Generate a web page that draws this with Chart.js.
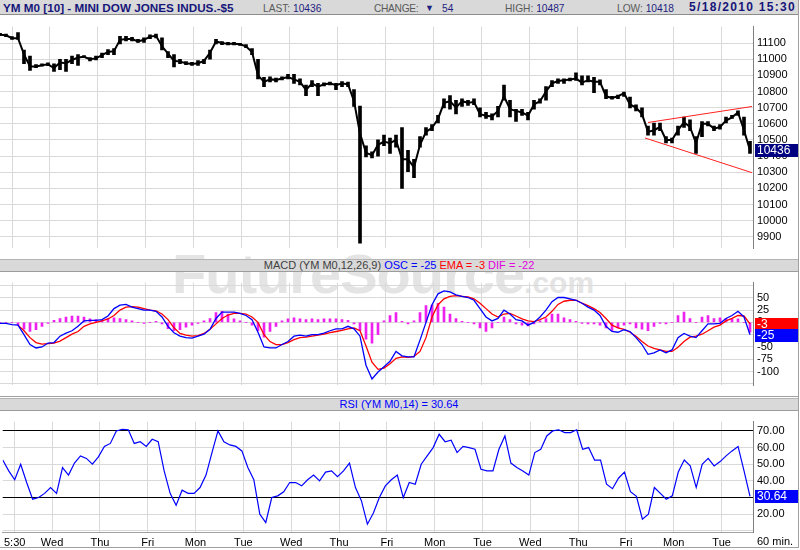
<!DOCTYPE html>
<html><head><meta charset="utf-8">
<script src="https://cdn.jsdelivr.net/npm/chart.js@4.4.1/dist/chart.umd.min.js"></script>
<style>
html,body{margin:0;padding:0;background:#fff}
#root{position:relative;width:800px;height:550px;overflow:hidden;font-family:"Liberation Sans",Arial,sans-serif}
.t{position:absolute;white-space:nowrap;font-size:11px;line-height:13px}
.h{font-size:10.2px;color:#5a5a5a}
.bar{position:absolute;left:0;width:798px;background:#d9d9d9;border-top:1px solid #b4b4b4;border-bottom:1px solid #9c9c9c}
canvas{position:absolute;left:0}
.wm{position:absolute;font-weight:bold;color:#e4e4e4;white-space:nowrap;line-height:60px}
.ln{position:absolute;background:#a0a0a0}
</style></head>
<body><div id="root">
<div class="wm" style="left:172px;top:244px;font-size:56px;letter-spacing:-1px">FutureSource<span style="font-size:30px;letter-spacing:0">.com</span></div>

<canvas id="cPrice" width="800" height="243" style="top:16px"></canvas>
<canvas id="cMacd" width="800" height="124" style="top:272px"></canvas>
<canvas id="cRsi" width="800" height="139" style="top:411px"></canvas>

<div class="bar" style="top:0;height:14px;border-top:none;border-bottom:1px solid #8c8c8c"></div>
<div class="t" style="left:3px;top:1px;font-size:11.7px;font-weight:bold;color:#16167a">YM M0 [10] - MINI DOW JONES INDUS.-$5</div>
<div class="t h" style="left:263px;top:2px">LAST: <span style="color:#1e1e80">10436</span></div>
<div class="t h" style="left:374px;top:2px;letter-spacing:-0.3px">CHANGE:</div>
<div class="t" style="left:425px;top:2px;color:#1e1e80;font-size:9px">▼</div>
<div class="t h" style="left:442px;top:2px;color:#1e1e80">54</div>
<div class="t h" style="left:505px;top:2px">HIGH: <span style="color:#1e1e80">10487</span></div>
<div class="t h" style="left:617px;top:2px">LOW: <span style="color:#1e1e80">10418</span></div>
<div class="t" style="right:4px;top:1px;font-size:12px;font-weight:bold;letter-spacing:1.3px;color:#16167a">5/18/2010 15:30</div>

<div class="bar" style="top:259px;height:11px"></div>
<div class="t" style="left:0;width:798px;top:259px;text-align:center"><span style="color:#404040">MACD (YM M0,12,26,9)</span> <span style="color:#0000ff">OSC = -25</span> <span style="color:#ff0000">EMA = -3</span> <span style="color:#e000e0">DIF = -22</span></div>

<div class="ln" style="left:0;top:396px;width:798px;height:1px"></div>
<div class="bar" style="top:398px;height:11px"></div>
<div class="t" style="left:0;width:798px;top:398px;text-align:center;color:#0000ff">RSI (YM M0,14) = 30.64</div>

<div class="t" style="left:757px;top:535px;color:#000">60 min.</div>
<div class="ln" style="left:798px;top:0;width:1px;height:548px"></div>
<div class="ln" style="left:0;top:547px;width:799px;height:1px"></div>
</div>
<script>
// ---------- data ----------
const SAMPLE_STEP = 3; // hourly bars between samples
const dayTicks  = [6, 24.75, 48.75, 72.75, 96.75, 120.75, 144.75, 168.75, 192.75, 216.75, 240.75, 264.75, 288.75, 312.75, 336.75, 360.75];
const dayLabels = ['5:30','Wed','Thu','Fri','Mon','Tue','Wed','Thu','Fri','Mon','Tue','Wed','Thu','Fri','Mon','Tue'];
const priceTicks = [9900,10000,10100,10200,10300,10400,10500,10600,10700,10800,10900,11000,11100];
const macdTicks  = [-125,-100,-75,-50,-25,0,25,50,75];
const rsiTicks   = [10,20,30,40,50,60,70];

const priceHigh = [11160,11155,11140,11165,11057,11020,10966,10972,10978,10972,
11000,11000,11020,11028,11023,11010,11020,11038,11060,11066,
11141,11141,11136,11123,11132,11151,11155,11132,11047,11028,
11000,10985,10981,10991,11000,11057,11123,11109,11104,11104,
11098,11090,11066,11000,10887,10891,10883,10891,10906,10906,
10878,10840,10868,10850,10853,10859,10850,10862,10859,10812,
10710,10464,10426,10500,10530,10511,10530,10577,10435,10379,
10520,10577,10595,10652,10755,10774,10746,10755,10746,10755,
10699,10671,10661,10708,10840,10746,10690,10690,10671,10746,
10755,10830,10868,10878,10878,10883,10915,10897,10897,10887,
10872,10812,10770,10778,10797,10765,10718,10699,10586,10605,
10605,10520,10511,10586,10642,10624,10520,10614,10614,10586,
10595,10642,10652,10680,10642,10492];
const priceLow = [11148,11140,11122,11122,10972,10930,10948,10957,10960,10925,
10935,10925,10972,10962,11010,10990,10996,11010,11028,11028,
11094,11113,11113,11104,11104,11128,11132,11057,11010,10953,
10972,10966,10962,10962,10972,11000,11094,11090,11089,11089,
11085,11072,11028,10878,10830,10859,10859,10872,10878,10850,
10840,10774,10830,10774,10834,10840,10812,10830,10830,10708,
9860,10394,10388,10400,10464,10417,10455,10200,10303,10266,
10455,10530,10558,10605,10699,10690,10661,10708,10714,10718,
10642,10633,10624,10642,10746,10642,10614,10652,10624,10690,
10727,10746,10830,10850,10850,10865,10868,10840,10859,10793,
10840,10755,10752,10755,10770,10699,10680,10642,10530,10530,
10558,10482,10482,10530,10577,10558,10417,10520,10586,10558,
10567,10605,10633,10652,10530,10417];
const priceClose = [11152,11148,11130,11130,11030,10955,10955,10962,10968,10945,
10980,10975,10995,11010,11015,11000,11005,11025,11045,11050,
11120,11125,11125,11110,11120,11140,11145,11080,11035,10990,
10985,10975,10970,10975,10990,11040,11110,11100,11095,11095,
11092,11080,11045,10900,10860,10875,10872,10880,10890,10875,
10860,10810,10850,10830,10845,10850,10840,10850,10845,10740,
10540,10420,10405,10470,10490,10480,10500,10380,10380,10330,
10470,10550,10575,10630,10730,10740,10700,10740,10730,10735,
10660,10650,10645,10680,10770,10690,10680,10670,10650,10720,
10740,10800,10850,10865,10870,10875,10880,10855,10870,10860,
10860,10770,10760,10770,10790,10720,10700,10660,10550,10560,
10580,10500,10500,10560,10610,10580,10480,10600,10600,10570,
10580,10620,10640,10670,10560,10436];
const trendUpperX = [324, 376];
const trendUpperY = [10608, 10707];
const trendLowerX = [322.5, 376];
const trendLowerY = [10512, 10297];

const macdOsc = [-2,-2,-4.5,-5.6,-25,-45,-52,-50,-42,-41,
-28,-22,-17,-8,3,4,4,5.6,13,28,
35,36.5,31,28,25,25,22.5,11,-8,-21,
-28,-31,-32,-28,-24,-14,8,21,21,21,
18.5,14,5.6,-20,-50,-52,-52,-45,-39,-28,
-26,-28,-25,-25,-22,-17,-13,-13,-8,-13,
-28,-87,-115,-101,-90,-79,-59,-68,-70,-70,
-36,0,36,58,64,62,56,53,50.6,45,
28,11,3,8,25,17,5.6,3,-5.6,0,
11,25,42,50.6,50.6,48,45,39,31,25,
14,-8,-18.5,-20,-15,-18.5,-31,-45,-65,-62,
-56,-62,-56,-31,-22.5,-28,-31,-17,-3,-3,
-2,8,14,22.5,11,-25];
const macdEma = [null,null,null,-5.6,-17,-31,-41,-44,-43,-42,
-38,-31,-24,-18.5,-8,-3,0,3,7,14,
25,31,32,31,28,25,23.6,17,5.6,-11,
-22.5,-26,-28,-27,-22.5,-14,-3,8,15,18.5,
18.5,17,11,0,-25,-39,-45,-45,-41,-35,
-31,-30,-28,-26,-24,-21,-18.5,-16,-13,-11,
-17,-48,-81,-95.5,-93,-84,-73,-70,-71,-69,
-59,-31,11,36,48,53,54.5,53,51.7,48,
39,28,17,11,17,18.5,13,7,3,1.7,
5.6,11,22.5,36.5,43,45,45,39,34,28,
20,8,-5.6,-11,-14,-20,-28,-39,-48,-53,
-56,-59,-59,-50.6,-39,-30,-28,-24,-17,-9.6,
-5.6,3,8,14,13,-3];
const macdDif = [0,0,0,-5,-14,-18.5,-15,-8,-2,4,
8,11,13,13,11,7,5.6,4,8,9.5,
8,5.6,3,0,-2,0,2,-3,-13,-17,
-15,-9.6,-5.6,-2,3,8,20,22.5,17,7,
3,0,-5.6,-17,-30,-18.5,-8,3,7,9.5,
7,5.6,7,5.6,7,7,7,5.6,4,-3,
-17,-34,-42,-25,3,14,20,2,-3,3,
20,34,35,39,31,17,8,2,0,-3,
-11,-18.5,-11,0,11,5.6,-3,-5.6,-7,-3,
3,8,17,17,9.5,5.6,2,-2,-3,-3,
-5.6,-11,-17,-11,-5.6,-3,-11,-14,-17,-8,
-2,-3,0,14,21,8,0,11,14,8,
9.5,8,7,7,0,-20];

const rsi = [52.5,46,40.7,50,39,29,30,32.5,36,32.5,
48,43.5,50.7,55,53.5,50,54.4,60.7,62.5,70,
71,70.7,62.5,63.5,60.7,65,63.5,46,32.5,25.3,
34.4,32.5,32.5,36,43.5,57,70,63.5,61.6,60.7,
58,48,40.7,20,15,30,31,33.5,39,39,
37,40.7,43.5,40,45.3,46,42.5,46,50.7,36,
28,14,20.7,30,37,40.7,43.5,30,39,38,
50,55,60,68,63.5,64.4,57,60.7,60,59,
47,46,46,59,67,50.7,48,46,43.5,57,
59,67,70,70.7,69,69,70.7,59,60,52.5,
52.5,38,35.3,41.6,45.3,33.5,30.7,17,20,36,
32.5,29,31,45.3,52.5,49,36,50,53.5,49,
51.6,55,58,60.7,46,30.64];

const lastPrice = 10436, lastOsc = -25, lastEma = -3, lastRsi = 30.64;

// ---------- helpers ----------
const xs = priceHigh.map((_, i) => i * SAMPLE_STEP);
const pts = arr => arr.map((v, i) => ({x: xs[i], y: v}));
const FONT = {family: '"Liberation Sans", Arial, sans-serif', size: 11};
const GRID = '#d9d9d9';

function xScale(showLabels) {
  return {
    type: 'linear', min: 0, max: 376.5, offset: false,
    grid: {color: GRID, drawTicks: false, offset: false},
    border: {display: showLabels, color: '#a0a0a0'},
    afterBuildTicks: s => { s.ticks = dayTicks.map(v => ({value: v})); },
    ticks: {display: showLabels, autoSkip: false, maxRotation: 0, minRotation: 0, padding: 4,
      color: '#000', font: FONT, callback: (v, i) => dayLabels[i]},
    afterFit: s => { s.height = showLabels ? 18 : 0; }
  };
}
function yScale(min, max, ticks, fmt, gridColor) {
  return {
    position: 'right', min, max,
    afterBuildTicks: s => { s.ticks = ticks.map(v => ({value: v})); },
    afterFit: s => { s.width = 47; },
    grid: {color: gridColor || GRID, drawTicks: false},
    border: {display: true, color: '#808080'},
    ticks: {padding: 4, color: '#000', font: FONT, autoSkip: false, callback: v => fmt(v)}
  };
}
const valueBox = {
  id: 'valueBox',
  afterDraw(chart, args, opts) {
    const ctx = chart.ctx, ys = chart.scales.y, a = chart.chartArea;
    (opts.items || []).forEach(b => {
      const py = Math.round(ys.getPixelForValue(b.value));
      ctx.save();
      ctx.fillStyle = b.bg;
      ctx.fillRect(a.right + 2, py - 6, chart.width - a.right - 4, 13);
      ctx.fillStyle = '#fff';
      ctx.font = '12px "Liberation Sans", Arial, sans-serif';
      ctx.textBaseline = 'middle'; ctx.textAlign = 'left';
      ctx.fillText(b.label, a.right + 4, py + 1);
      ctx.restore();
    });
  }
};
const common = {
  animation: false, responsive: false, maintainAspectRatio: false, devicePixelRatio: 1,
  layout: {padding: 0}, events: []
};

// ---------- price ----------
new Chart(document.getElementById('cPrice'), {
  type: 'bar',
  plugins: [valueBox],
  data: {datasets: [
    {type: 'line', data: pts(priceClose), borderColor: '#000', borderWidth: 2, pointRadius: 0, tension: 0, order: 0},
    {type: 'bar', data: priceHigh.map((h, i) => ({x: xs[i], y: [priceLow[i], h]})), backgroundColor: '#000', barThickness: 3, order: 1},
    {type: 'line', data: trendUpperX.map((x, i) => ({x, y: trendUpperY[i]})), borderColor: '#ff2020', borderWidth: 1, pointRadius: 0, order: 0},
    {type: 'line', data: trendLowerX.map((x, i) => ({x, y: trendLowerY[i]})), borderColor: '#ff2020', borderWidth: 1, pointRadius: 0, order: 0}
  ]},
  options: {...common,
    plugins: {legend: {display: false}, tooltip: {enabled: false},
      valueBox: {items: [{value: lastPrice, label: String(lastPrice), bg: '#000080'}]}},
    scales: {x: xScale(false), y: yScale(9828, 11202, priceTicks, v => String(v))}
  }
});

// ---------- MACD ----------
new Chart(document.getElementById('cMacd'), {
  type: 'bar',
  plugins: [valueBox],
  data: {datasets: [
    {type: 'line', data: pts(macdOsc), borderColor: '#0000ff', borderWidth: 1.3, pointRadius: 0, tension: 0, order: 0},
    {type: 'line', data: pts(macdEma), borderColor: '#ff0000', borderWidth: 1.3, pointRadius: 0, tension: 0, order: 1},
    {type: 'bar', data: pts(macdDif), backgroundColor: '#ee22ee', barThickness: 2, order: 2}
  ]},
  options: {...common,
    plugins: {legend: {display: false}, tooltip: {enabled: false},
      valueBox: {items: [{value: lastEma, label: String(lastEma), bg: '#ff0000'}, {value: lastOsc, label: String(lastOsc), bg: '#0000ff'}]}},
    scales: {x: xScale(false), y: yScale(-128.1, 80.9, macdTicks, v => (v >= -100 && v <= 50) ? String(v) : '')}
  }
});

// ---------- RSI ----------
new Chart(document.getElementById('cRsi'), {
  type: 'line',
  plugins: [valueBox],
  data: {datasets: [
    {data: pts(rsi), borderColor: '#0000ff', borderWidth: 1.2, pointRadius: 0, tension: 0}
  ]},
  options: {...common,
    plugins: {legend: {display: false}, tooltip: {enabled: false},
      valueBox: {items: [{value: lastRsi, label: lastRsi.toFixed(2), bg: '#0000ff'}]}},
    scales: {x: xScale(true),
      y: yScale(9.3, 75.6, rsiTicks, v => v >= 20 ? v.toFixed(2) : '',
        c => (c.tick && (c.tick.value === 70 || c.tick.value === 30)) ? '#000' : GRID)}
  }
});
</script>
</body></html>
